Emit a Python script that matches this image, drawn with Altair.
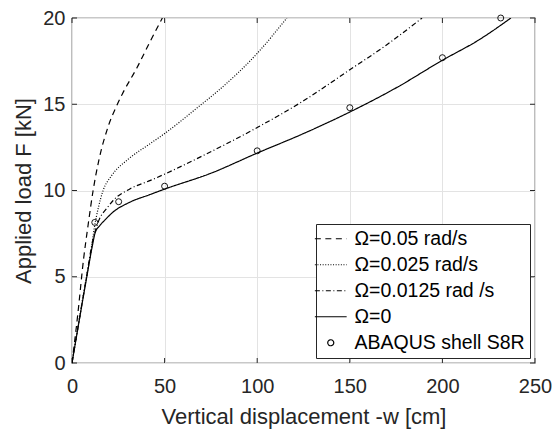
import altair as alt
import pandas as pd

# ---- data ----
series_names = ["Ω=0.05 rad/s", "Ω=0.025 rad/s", "Ω=0.0125 rad /s", "Ω=0", "ABAQUS shell S8R"]

w_005 = [0, 3, 6.3, 8.7, 11.4, 14.6, 19.5, 24.5, 27.2, 35, 42, 48.8]
F_005 = [0, 2.7, 6.07, 8.0, 10.0, 11.8, 13.7, 15.0, 15.6, 17.1, 18.6, 20]

w_0025 = [0, 8, 10, 12.3, 14.1, 16.8, 21.3, 30.3, 42, 50, 69.4, 78, 100, 116]
F_0025 = [0, 5.1, 6.3, 8.0, 8.94, 10.0, 10.85, 11.81, 12.7, 13.3, 14.95, 15.7, 17.95, 20]

w_00125 = [0, 8, 11, 13, 14.9, 18.6, 22.2, 31.2, 42, 50, 69.4, 100, 125, 150, 170, 189]
F_00125 = [0, 5.1, 7.0, 7.8, 8.37, 8.94, 9.42, 10.09, 10.57, 10.95, 11.95, 13.65, 15.2, 17.0, 18.45, 20]

w_0 = [0, 8, 11, 12.5, 14.9, 17.7, 22.2, 31.2, 42, 50, 75, 100, 125, 150, 175, 200, 220, 237]
F_0 = [0, 5.0, 6.8, 7.55, 7.95, 8.28, 8.75, 9.32, 9.76, 10.08, 11.0, 12.17, 13.3, 14.55, 15.95, 17.55, 18.75, 20]

w_abaqus = [12.3, 25.2, 50, 100, 150, 200, 231.5]
F_abaqus = [8.15, 9.35, 10.25, 12.3, 14.8, 17.7, 20.0]

x_ticks = [0, 50, 100, 150, 200, 250]
y_ticks = [0, 5, 10, 15, 20]

# ---- tables ----
rows = []
for name, ws, fs in zip(series_names[:4], [w_005, w_0025, w_00125, w_0], [F_005, F_0025, F_00125, F_0]):
    for w, f in zip(ws, fs):
        rows.append({"series": name, "w": w, "F": f})
lines_df = pd.DataFrame(rows)
pts_df = pd.DataFrame({"series": series_names[4], "w": w_abaqus, "F": F_abaqus})
xt_df = pd.DataFrame({"v": x_ticks})
yt_df = pd.DataFrame({"v": y_ticks})

W, H = 463, 345
FONT = "Liberation Sans"
AX = "#262626"

xscale = alt.Scale(domain=[0, 250], nice=False, zero=False)
yscale = alt.Scale(domain=[0, 20], nice=False, zero=False)

xaxis = alt.Axis(values=x_ticks, title="Vertical displacement -w [cm]", labelPadding=13,
                 titleBaseline="alphabetic", titleY=60, labelFlush=False, labelOverlap=False)
yaxis = alt.Axis(values=y_ticks, title="Applied load F [kN]", labelPadding=7,
                 titleBaseline="alphabetic", titleX=-42, titleY=H / 2, titleAngle=270,
                 labelFlush=False, labelOverlap=False)

dash_range = [[6, 4.5], [1, 1.6], [5, 2.5, 1, 2.5], [1, 0], [1, 0]]
LINE_SYM = "M-5.3,0L5.3,0"
shape_range = [LINE_SYM, LINE_SYM, LINE_SYM, LINE_SYM, "circle"]

legend = alt.Legend(
    title=None, orient="none", legendX=244, legendY=206,
    fillColor="white", strokeColor=AX, padding=5,
    labelFont=FONT, labelFontSize=19.5, labelColor="black", labelOffset=14, labelLimit=400,
    symbolSize=36, symbolStrokeWidth=1.2, symbolStrokeColor="black",
    symbolFillColor="transparent", symbolOpacity=1, rowPadding=5,
)

lines = alt.Chart(lines_df).mark_line(color="black", strokeWidth=1.2, interpolate="monotone", clip=True).encode(
    x=alt.X("w:Q", scale=xscale, axis=xaxis),
    y=alt.Y("F:Q", scale=yscale, axis=yaxis),
    strokeDash=alt.StrokeDash("series:N", scale=alt.Scale(domain=series_names, range=dash_range),
                              legend=legend, sort=series_names),
    detail="series:N",
)

points = alt.Chart(pts_df).mark_point(filled=False, color="black", size=36, opacity=1,
                                      strokeWidth=0.9, clip=False).encode(
    x=alt.X("w:Q", scale=xscale),
    y=alt.Y("F:Q", scale=yscale),
    shape=alt.Shape("series:N", scale=alt.Scale(domain=series_names, range=shape_range),
                    legend=legend, sort=series_names),
)

TL = 5
tick_bottom = alt.Chart(xt_df).mark_rule(color=AX, strokeWidth=1).encode(
    x=alt.X("v:Q", scale=xscale), y=alt.value(H), y2=alt.value(H - TL))
tick_top = alt.Chart(xt_df).mark_rule(color=AX, strokeWidth=1).encode(
    x=alt.X("v:Q", scale=xscale), y=alt.value(0), y2=alt.value(TL))
tick_left = alt.Chart(yt_df).mark_rule(color=AX, strokeWidth=1).encode(
    y=alt.Y("v:Q", scale=yscale), x=alt.value(0), x2=alt.value(TL))
tick_right = alt.Chart(yt_df).mark_rule(color=AX, strokeWidth=1).encode(
    y=alt.Y("v:Q", scale=yscale), x=alt.value(W), x2=alt.value(W - TL))

chart = alt.layer(tick_bottom, tick_top, tick_left, tick_right, lines, points).properties(
    width=W, height=H,
    autosize=alt.AutoSizeParams(type="none"),
    padding={"left": 64, "top": 10, "right": 17, "bottom": 66},
).configure_view(
    stroke=AX, strokeWidth=1.2,
).configure_axis(
    labelFont=FONT, labelFontSize=20, labelColor=AX,
    titleFont=FONT, titleFontSize=22, titleFontWeight="normal", titleColor=AX,
    grid=True, gridColor="#e3e3e3", gridWidth=1,
    domain=False, ticks=False, tickSize=0,
)

chart.save("out.html", embed_options={"renderer": "svg", "actions": False})
